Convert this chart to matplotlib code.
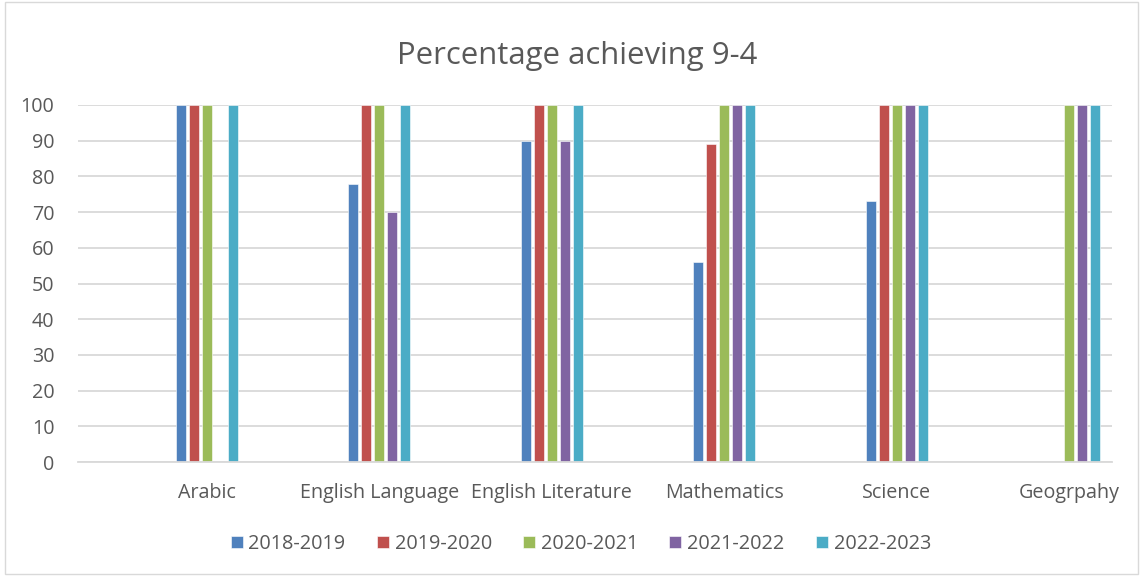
import numpy as np
import matplotlib
matplotlib.use("Agg")
import matplotlib.pyplot as plt
from matplotlib.patches import Rectangle

categories = ["Arabic", "English Language", "English Literature", "Mathematics", "Science", "Geogrpahy"]
series_names = ["2018-2019", "2019-2020", "2020-2021", "2021-2022", "2022-2023"]
s2018 = [100, 78, 90, 56, 73, np.nan]
s2019 = [100, 100, 100, 89, 100, np.nan]
s2020 = [100, 100, 100, 100, 100, 100]
s2021 = [np.nan, 70, 90, 100, 100, 100]
s2022 = [100, 100, 100, 100, 100, 100]
series = [s2018, s2019, s2020, s2021, s2022]
colors = ["#4F81BD", "#C0504D", "#9BBB59", "#8064A2", "#4BACC6"]

plt.rcParams['font.family'] = ['Open Sans', 'DejaVu Sans']
W, H = 1141, 576
fig = plt.figure(figsize=(W/100, H/100), dpi=100)
ax = fig.add_axes([78/W, 1-462/H, (1112-78)/W, (462-105)/H])

x = np.arange(len(categories))
bw = 0.058
step = 0.0754
for i, (vals, c, name) in enumerate(zip(series, colors, series_names)):
    ax.bar(x + (i-2)*step, vals, width=bw, color=c, label=name,
           edgecolor='white', linewidth=0.4)

ax.set_xlim(-0.748, 5.25)
ax.set_ylim(0, 100)
ax.set_yticks(range(0, 101, 10))
ax.set_xticks(x)
ax.set_xticklabels(categories)
ax.yaxis.grid(True, color='#D9D9D9', linewidth=1.3)
ax.set_axisbelow(True)
for s in ['top', 'right', 'left']:
    ax.spines[s].set_visible(False)
ax.spines['bottom'].set_color('#D9D9D9')
ax.spines['bottom'].set_linewidth(1.3)
ax.tick_params(axis='both', length=0, labelsize=14.2, labelcolor='#595959')
ax.tick_params(axis='y', pad=17)
ax.tick_params(axis='x', pad=15)

fig.text(0.506, 1-56/H, "Percentage achieving 9-4", ha='center', va='center',
         fontsize=22.4, color='#595959')

handles, labels = ax.get_legend_handles_labels()
leg = fig.legend(handles, labels, loc='center', bbox_to_anchor=(0.509, 1-544/H),
                 ncol=5, frameon=False, fontsize=14.3, handlelength=0.6, handleheight=0.6,
                 handletextpad=0.3, columnspacing=1.57, labelcolor='#595959')

fig.patches.append(Rectangle((5/W, 2/H), (W-8)/W, (H-4)/H, transform=fig.transFigure,
                             fill=False, edgecolor='#D9D9D9', linewidth=1))
fig.savefig("out.png", dpi=100)
